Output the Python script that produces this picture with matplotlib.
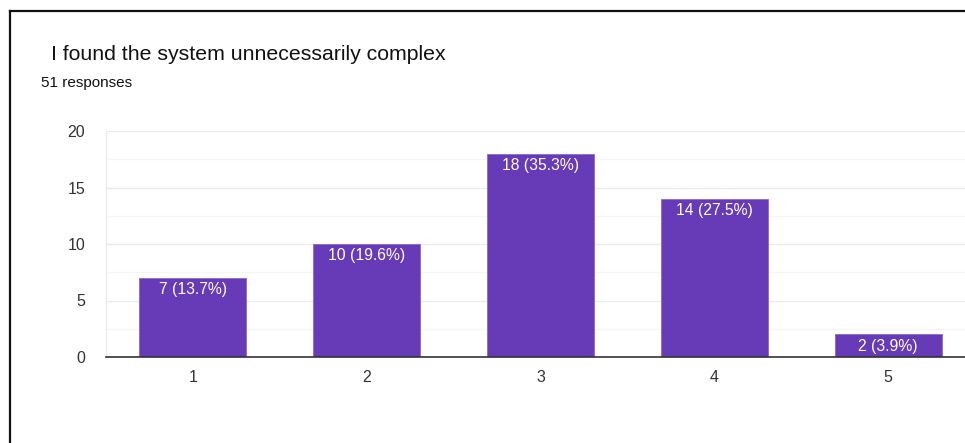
import matplotlib
matplotlib.use("Agg")
import matplotlib.pyplot as plt
from matplotlib.lines import Line2D

plt.rcParams['font.family'] = ['Liberation Sans', 'DejaVu Sans']

# Survey responses
categories = [1, 2, 3, 4, 5]
counts = [7, 10, 18, 14, 2]
percents = [13.7, 19.6, 35.3, 27.5, 3.9]
total_responses = 51
title = "I found the system unnecessarily complex"
y_ticks = [0, 5, 10, 15, 20]

W, H = 965, 443
fig = plt.figure(figsize=(W / 100, H / 100), dpi=100)
fig.patch.set_facecolor('white')

# Axes extends slightly past the right edge of the figure
left, right, bottom, top = 106, 975, 357, 131
ax = fig.add_axes([left / W, (H - bottom) / H, (right - left) / W, (bottom - top) / H])

purple = '#673ab7'
ax.bar(categories, counts, width=0.615, color=purple, edgecolor='#8a68cc',
       linewidth=0.6, zorder=3)

for x, c, p in zip(categories, counts, percents):
    ax.annotate(f"{c} ({p}%)", xy=(x, c), xytext=(0, -3), textcoords='offset points',
                ha='center', va='top', color='white', fontsize=11.3, zorder=4)

ax.set_xlim(0.5, 5.5)
ax.set_ylim(0, 20)
ax.set_xticks(categories)
ax.set_xticklabels([str(c) for c in categories])
ax.set_yticks(y_ticks)
ax.set_yticks([2.5, 7.5, 12.5, 17.5], minor=True)

ax.grid(axis='y', which='major', color='#ebebeb', linewidth=1.0, zorder=0)
ax.grid(axis='y', which='minor', color='#f5f5f5', linewidth=1.0, zorder=0)
ax.tick_params(axis='both', which='both', length=0, colors='#333333', labelsize=11.5)
ax.tick_params(axis='y', pad=15)
ax.tick_params(axis='x', pad=9)

for side in ['top', 'right']:
    ax.spines[side].set_visible(False)
ax.spines['left'].set_color('#ebebeb')
ax.spines['left'].set_linewidth(1.0)
ax.spines['bottom'].set_color('#333333')
ax.spines['bottom'].set_linewidth(1.2)
ax.spines['bottom'].set_zorder(5)

# Titles
fig.text(51 / W, 1 - 55 / H, title, fontsize=15.3, color='#111111', va='center', ha='left')
fig.text(41 / W, 1 - 83 / H, f"{total_responses} responses", fontsize=11, color='#111111',
         va='center', ha='left')

# Frame lines on the left and top
fig.add_artist(Line2D([10 / W, 10 / W], [0, 1 - 11 / H], transform=fig.transFigure,
                      color='#111111', linewidth=1.6))
fig.add_artist(Line2D([10 / W, 1], [1 - 11 / H, 1 - 11 / H], transform=fig.transFigure,
                      color='#111111', linewidth=1.6))

fig.savefig('out.png', dpi=100)
